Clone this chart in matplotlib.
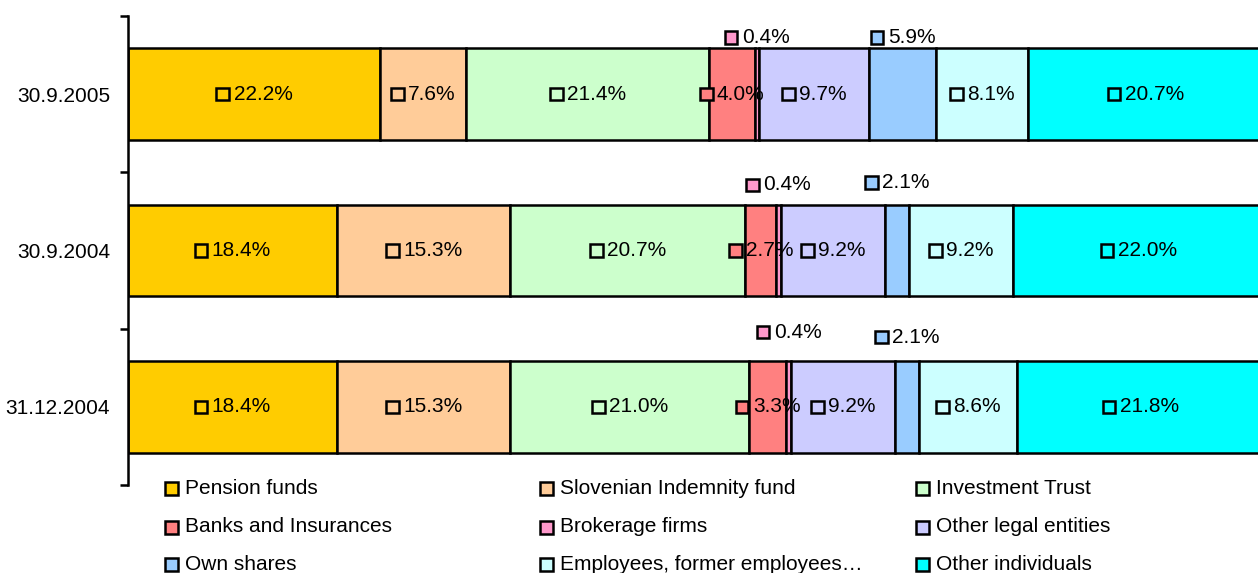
import matplotlib as mpl
mpl.use('Agg')
from matplotlib import pyplot as plt
from matplotlib.patches import Rectangle
from matplotlib.offsetbox import AnnotationBbox, DrawingArea, HPacker, TextArea
import numpy as np

plt.rcParams['font.family'] = ['Liberation Sans', 'DejaVu Sans']

#data
categories = ['30.9.2005', '30.9.2004', '31.12.2004']
series = ['Pension funds', 'Slovenian Indemnity fund', 'Investment Trust',
          'Banks and Insurances', 'Brokerage firms', 'Other legal entities',
          'Own shares', 'Employees, former employees\u2026', 'Other individuals']
pension    = [22.2, 18.4, 18.4]
slovenian  = [7.6, 15.3, 15.3]
investment = [21.4, 20.7, 21.0]
banks      = [4.0, 2.7, 3.3]
brokerage  = [0.4, 0.4, 0.4]
other_legal = [9.7, 9.2, 9.2]
own_shares = [5.9, 2.1, 2.1]
employees  = [8.1, 9.2, 8.6]
individuals = [20.7, 22.0, 21.8]
values = [pension, slovenian, investment, banks, brokerage, other_legal,
          own_shares, employees, individuals]

#styles
colors = ['#FFCC00', '#FFCC99', '#CCFFCC', '#FF8080', '#FF99CC', '#CCCCFF',
          '#99CCFF', '#CCFFFF', '#00FFFF']
above_lift = {4: [0.363, 0.42, 0.478], 6: [0.363, 0.433, 0.446]}
fs = 15
lw = 1.8

W, H = 1258, 573
fig = plt.figure(figsize=(W / 100, H / 100), dpi=100)
ax = fig.add_axes([128 / W, 1 - 485 / H, (1263 - 128) / W, (485 - 16) / H])

y = np.arange(len(categories))
left = np.zeros(len(categories))


def key_label(ax, xy, color, txt):
    da = DrawingArea(10.5, 10.5, 0, 0)
    da.add_artist(Rectangle((0.7, 0.7), 9.1, 9.1, facecolor=color,
                            edgecolor='black', lw=lw))
    ta = TextArea(txt, textprops=dict(fontsize=fs, color='black'))
    box = HPacker(children=[da, ta], align='center', pad=0, sep=2.5)
    ab = AnnotationBbox(box, xy, frameon=False, box_alignment=(0.5, 0.5),
                        pad=0, annotation_clip=False)
    ax.add_artist(ab)


for i, (vals, c) in enumerate(zip(values, colors)):
    vals = np.array(vals)
    ax.barh(y, vals, left=left, height=0.585, color=c, edgecolor='black',
            linewidth=lw, zorder=2)
    for j, v in enumerate(vals):
        cx = left[j] + v / 2
        if i in above_lift:
            cy = y[j] - above_lift[i][j]
        else:
            cy = y[j]
        key_label(ax, (cx, cy), c, '%.1f%%' % v)
    left += vals

ax.set_xlim(0, 100)
ax.set_ylim(2.5, -0.5)
ax.set_yticks(y)
ax.set_yticklabels(categories, fontsize=fs)
ax.set_yticks([-0.5, 0.5, 1.5, 2.5], minor=True)
ax.tick_params(axis='y', which='major', length=0, pad=13)
ax.tick_params(axis='y', which='minor', length=6, width=lw, direction='out')
ax.set_xticks([])
for s in ['top', 'right', 'bottom']:
    ax.spines[s].set_visible(False)
ax.spines['left'].set_linewidth(lw)

#legend, row-wise like the original
col_x = [165, 540, 916]
row_y = [488, 527, 564]
for k, (name, c) in enumerate(zip(series, colors)):
    r, col = divmod(k, 3)
    px, py = col_x[col], row_y[r]
    fig.add_artist(Rectangle((px / W, (H - py - 6.5) / H), 13 / W, 13 / H,
                             facecolor=c, edgecolor='black', lw=lw,
                             transform=fig.transFigure))
    fig.text((px + 20) / W, (H - py) / H, name, fontsize=fs, va='center',
             ha='left')

plt.savefig('out.png', dpi=100)
